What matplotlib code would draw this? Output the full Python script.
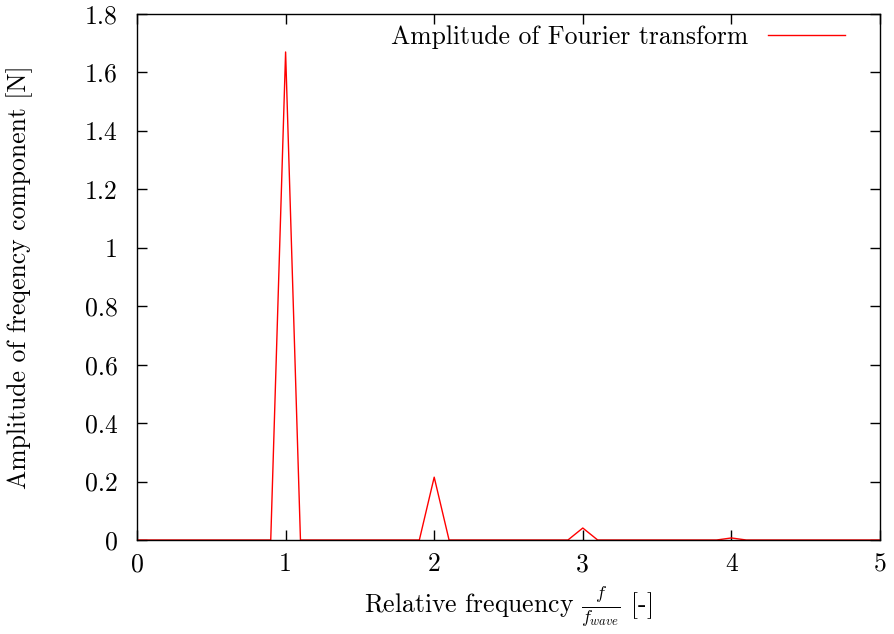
#!/usr/bin/env python3

import numpy
import matplotlib
matplotlib.use("Agg")
import matplotlib.pyplot as plt

plt.rcParams['font.family'] = ['cmr10', 'DejaVu Serif']
plt.rcParams['mathtext.fontset'] = 'cm'
plt.rcParams['axes.formatter.use_mathtext'] = True

# relative frequency f/f_wave, sampled every 0.1
freq = numpy.round(numpy.arange(0, 51) * 0.1, 1)
amp = numpy.zeros(len(freq))
# peaks
peak_freq = [1.0, 2.0, 3.0, 4.0]
peak_amp = [1.67, 0.215, 0.041, 0.007]
for f, a in zip(peak_freq, peak_amp):
    amp[numpy.argmin(abs(freq - f))] = a

xticks = [0, 1, 2, 3, 4, 5]
yticks = [0, 0.2, 0.4, 0.6, 0.8, 1, 1.2, 1.4, 1.6, 1.8]
ytick_labels = ['0', '0.2', '0.4', '0.6', '0.8', '1', '1.2', '1.4', '1.6', '1.8']

fs = 18.5

fig = plt.figure(figsize=(8.94, 6.34), dpi=100)
ax = fig.add_axes([137/894, 94/634, 743/894, 526/634])

ax.plot(freq, amp, color='red', lw=1.0, label='Amplitude of Fourier transform')

ax.set_xlim(0, 5)
ax.set_ylim(0, 1.8)
ax.set_xticks(xticks)
ax.set_xticklabels([str(t) for t in xticks])
ax.set_yticks(yticks)
ax.set_yticklabels(ytick_labels)
ax.tick_params(direction='in', length=7, width=1, top=True, right=True,
               labelsize=fs)
ax.tick_params(axis='x', pad=9)
ax.tick_params(axis='y', pad=14)
for s in ax.spines.values():
    s.set_linewidth(1.0)

ax.set_xlabel(r'Relative frequency $\frac{f}{f_{wave}}$ [-]', fontsize=fs, va='center')
ax.set_ylabel('Amplitude of freqency component [N]', fontsize=fs, va='center')
ax.xaxis.set_label_coords(0.5, (540 - 607) / 526)
ax.yaxis.set_label_coords((20 - 137) / 743, 0.5)

ax.legend(loc='center right', bbox_to_anchor=((845 - 137) / 743, (540 - 37) / 526),
          frameon=False, markerfirst=False, fontsize=fs,
          handlelength=3.0, handletextpad=0.75, borderpad=0, borderaxespad=0)

fig.savefig('out.png', dpi=100)
